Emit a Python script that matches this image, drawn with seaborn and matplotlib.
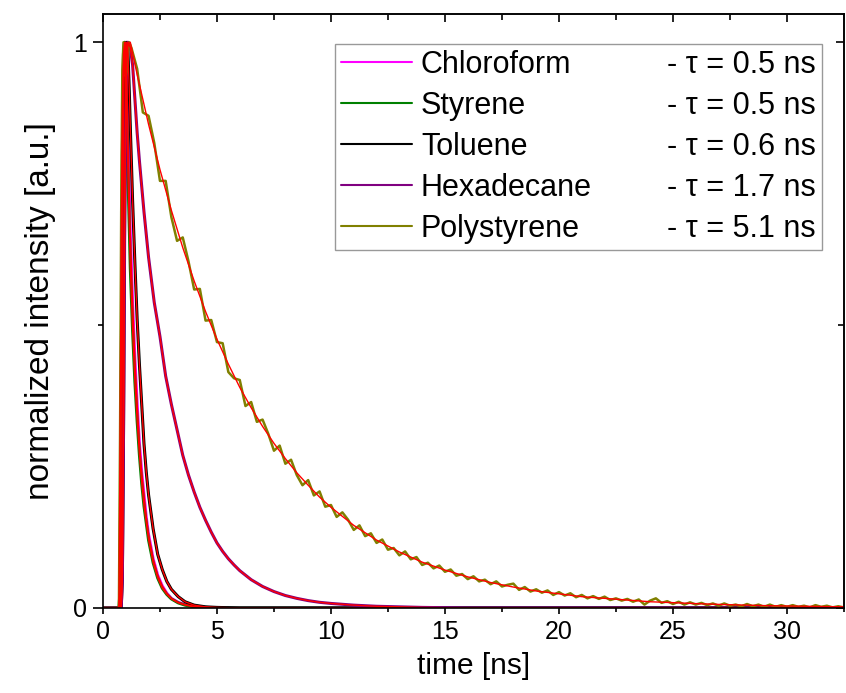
import numpy as np
import pandas as pd
import matplotlib
matplotlib.use("Agg")
import matplotlib.pyplot as plt
import seaborn as sns
from matplotlib.lines import Line2D
from matplotlib.ticker import MultipleLocator, NullFormatter

# Time grid and decays (normalized intensity)
t_fast = [0, 0.6, 0.7, 0.75, 0.8, 0.85, 0.9, 0.95, 1.0, 1.05, 1.1, 1.15, 1.2,
          1.3, 1.4, 1.5, 1.6, 1.7, 1.8, 1.9, 2.0, 2.2, 2.4, 2.6, 2.8, 3.0,
          3.3, 3.6, 4.0, 4.5, 5.0, 6.0, 10.0, 20.0, 32.5]
chloroform = [0, 0, 0, 0, 0.05, 0.45, 0.85, 0.99, 1.0, 0.93, 0.83, 0.74, 0.66,
              0.54, 0.44, 0.36, 0.29, 0.24, 0.20, 0.16, 0.13, 0.087, 0.058, 0.039, 0.026, 0.017,
              0.010, 0.006, 0.003, 0.001, 0, 0, 0, 0, 0]
styrene = [0, 0, 0, 0.03, 0.35, 0.80, 0.98, 1.0, 0.95, 0.86, 0.76, 0.68, 0.60,
           0.49, 0.40, 0.33, 0.27, 0.22, 0.18, 0.15, 0.12, 0.080, 0.053, 0.035, 0.024, 0.016,
           0.009, 0.005, 0.002, 0.001, 0, 0, 0, 0, 0]
toluene = [0, 0, 0, 0, 0, 0.05, 0.30, 0.70, 0.93, 1.0, 0.98, 0.92, 0.85,
           0.72, 0.61, 0.51, 0.43, 0.36, 0.29, 0.24, 0.20, 0.14, 0.095, 0.068, 0.047, 0.033,
           0.020, 0.011, 0.005, 0.002, 0.001, 0, 0, 0, 0]

t_hex = [0, 0.8, 0.85, 0.9, 0.95, 1.0, 1.05, 1.1, 1.2, 1.3, 1.4, 1.5, 1.6, 1.8, 2.0,
         2.25, 2.5, 2.75, 3.0, 3.25, 3.5, 3.75, 4.0, 4.25, 4.5, 4.75, 5.0, 5.25, 5.5,
         5.75, 6.0, 6.5, 7.0, 7.5, 8.0, 8.5, 9.0, 9.5, 10.0, 11.0, 12.0, 13.0, 14.0,
         16.0, 20.0, 32.5]
hexadecane = [0, 0, 0.05, 0.30, 0.65, 0.88, 0.97, 1.0, 0.99, 0.96, 0.90, 0.84, 0.79, 0.70, 0.62,
              0.54, 0.48, 0.41, 0.36, 0.315, 0.27, 0.235, 0.205, 0.178, 0.155, 0.134, 0.115, 0.10, 0.087,
              0.076, 0.066, 0.050, 0.038, 0.029, 0.022, 0.017, 0.013, 0.010, 0.008, 0.005, 0.003, 0.002, 0.001,
              0, 0, 0]

# polystyrene: rising edge, then 0.25 ns channels from 1.25 to 32.5 ns
t_ps_rise = [0, 0.6, 0.7, 0.75, 0.8, 0.85, 0.9, 0.95, 1.0, 1.05, 1.1, 1.15, 1.2]
ps_rise = [0, 0, 0, 0.30, 0.70, 0.95, 1.0, 0.97, 0.94, 0.95, 0.98, 1.0, 0.995]
t_ps_tail = np.arange(1.25, 32.51, 0.25)
ps_tail = [0.990, 0.953, 0.876, 0.870, 0.822, 0.755, 0.755, 0.691, 0.649, 0.655, 0.613, 0.563, 0.564, 0.508, 0.509, 0.470,
           0.468, 0.417, 0.406, 0.403, 0.357, 0.364, 0.329, 0.333, 0.308, 0.278, 0.287, 0.255, 0.262, 0.235, 0.217, 0.226,
           0.199, 0.206, 0.179, 0.182, 0.161, 0.169, 0.156, 0.138, 0.146, 0.127, 0.132, 0.115, 0.121, 0.103, 0.106, 0.093,
           0.100, 0.086, 0.090, 0.076, 0.080, 0.070, 0.075, 0.064, 0.068, 0.057, 0.060, 0.051, 0.056, 0.047, 0.050, 0.042,
           0.047, 0.038, 0.041, 0.043, 0.032, 0.037, 0.029, 0.033, 0.027, 0.031, 0.023, 0.028, 0.022, 0.026, 0.019, 0.023,
           0.017, 0.021, 0.016, 0.020, 0.014, 0.017, 0.013, 0.016, 0.011, 0.015, 0.006, 0.013, 0.017, 0.009, 0.012, 0.007,
           0.011, 0.006, 0.010, 0.006, 0.009, 0.005, 0.008, 0.004, 0.008, 0.004, 0.006, 0.003, 0.007, 0.003, 0.006, 0.002,
           0.006, 0.002, 0.005, 0.002, 0.005, 0.002, 0.004, 0.001, 0.005, 0.002, 0.004, 0.001, 0.003, 0.001]
t_ps = list(t_ps_rise) + list(t_ps_tail)
polystyrene = ps_rise + ps_tail

# mono-exponential fit of polystyrene (red line)
t_ps_fit = [0, 0.6, 0.7, 0.75, 0.8, 0.85, 0.9, 1.0, 1.1, 1.2, 1.5, 2, 2.5, 3, 3.5, 4, 4.5, 5, 5.5, 6,
            6.5, 7, 7.5, 8, 8.5, 9, 9.5, 10, 11, 12, 13, 14, 15, 16, 17, 18, 19, 20, 21, 22, 23,
            24, 25, 26, 27, 28, 29, 30, 31, 32, 32.5]
ps_fit = [0, 0, 0, 0.30, 0.65, 0.88, 0.96, 0.985, 0.995, 1.0, 0.943, 0.855, 0.775, 0.703, 0.637, 0.578,
          0.524, 0.475, 0.431, 0.390, 0.354, 0.321, 0.291, 0.264, 0.239, 0.217, 0.196, 0.178, 0.146, 0.120,
          0.099, 0.081, 0.067, 0.055, 0.045, 0.037, 0.030, 0.025, 0.020, 0.017, 0.014, 0.011, 0.0094,
          0.0077, 0.0063, 0.0052, 0.0042, 0.0035, 0.0029, 0.0023, 0.0021]

names = ["Chloroform", "Styrene", "Toluene", "Hexadecane", "Polystyrene"]
taus = ["- \u03c4 = 0.5 ns", "- \u03c4 = 0.5 ns", "- \u03c4 = 0.6 ns", "- \u03c4 = 1.7 ns", "- \u03c4 = 5.1 ns"]
colors = ["#FF00FF", "#008000", "#000000", "#800080", "#808000"]
fit_color = "#FF0000"

sns.set_theme(style="ticks")
plt.rcParams["font.family"] = ["Liberation Sans", "DejaVu Sans"]
plt.rcParams["text.color"] = "black"
plt.rcParams["axes.labelcolor"] = "black"
plt.rcParams["xtick.color"] = "black"
plt.rcParams["ytick.color"] = "black"

fig = plt.figure(figsize=(8.46, 6.93), dpi=100)
ax = fig.add_axes([0.1217, 0.1227, 0.8759, 0.8571])

series = [(t_fast, chloroform), (t_fast, styrene), (t_fast, toluene),
          (t_hex, hexadecane), (t_ps, polystyrene)]
widths = [2.2, 2.2, 2.2, 2.2, 1.8]
for (t, v), c, w in zip(series, colors, widths):
    sns.lineplot(x=t, y=v, color=c, lw=w, ax=ax, estimator=None, sort=False, legend=False)

# fit curves on top
fits = [(t_fast, chloroform), (t_fast, styrene), (t_fast, toluene),
        (t_hex, hexadecane), (t_ps_fit, ps_fit)]
for t, v in fits:
    sns.lineplot(x=t, y=v, color=fit_color, lw=1.0, ax=ax, estimator=None, sort=False, legend=False)

ax.set_xlim(0, 32.5)
ax.set_ylim(0, 1.05)
ax.xaxis.set_major_locator(MultipleLocator(5))
ax.xaxis.set_minor_locator(MultipleLocator(2.5))
ax.set_yticks([0, 1])
ax.set_yticklabels(["0", "1"])
ax.yaxis.set_minor_locator(MultipleLocator(0.5))

for s in ax.spines.values():
    s.set_linewidth(1.2)
    s.set_color("black")

ax.tick_params(axis="x", which="major", direction="out", length=4.5, width=1.2, labelsize=18, pad=4)
ax.tick_params(axis="x", which="minor", direction="out", length=3, width=1.2)
ax.tick_params(axis="y", which="major", direction="out", length=7.5, width=1.2, labelsize=18, pad=4)
ax.tick_params(axis="y", which="minor", direction="out", length=3.8, width=1.2)

# inward ticks on the top and right frame
top = ax.secondary_xaxis("top")
top.xaxis.set_major_locator(MultipleLocator(5))
top.xaxis.set_minor_locator(MultipleLocator(2.5))
top.xaxis.set_major_formatter(NullFormatter())
top.tick_params(which="major", direction="in", length=6, width=1.2)
top.tick_params(which="minor", direction="in", length=4, width=1.2)
right = ax.secondary_yaxis("right")
right.set_yticks([0, 1])
right.yaxis.set_minor_locator(MultipleLocator(0.5))
right.yaxis.set_major_formatter(NullFormatter())
right.tick_params(which="major", direction="in", length=6, width=1.2)
right.tick_params(which="minor", direction="in", length=4, width=1.2)

ax.set_xlabel("time [ns]", fontsize=21.5, labelpad=6)
ax.set_ylabel("normalized intensity [a.u.]", fontsize=24, labelpad=12)

handles = [Line2D([], [], color=c, lw=1.5) for c in colors]
blanks = [Line2D([], [], color="none") for _ in taus]
leg = ax.legend(handles + blanks, names + taus, ncol=2, loc="upper right",
                bbox_to_anchor=(0.970, 0.9495), fontsize=22, handlelength=2.3,
                handletextpad=0.3, columnspacing=-0.15, labelspacing=0.36,
                borderpad=0.2, borderaxespad=0, frameon=True, fancybox=False)
leg.get_frame().set_edgecolor("#808080")
leg.get_frame().set_linewidth(1.0)

plt.savefig("out.png", dpi=100)
plt.close()
